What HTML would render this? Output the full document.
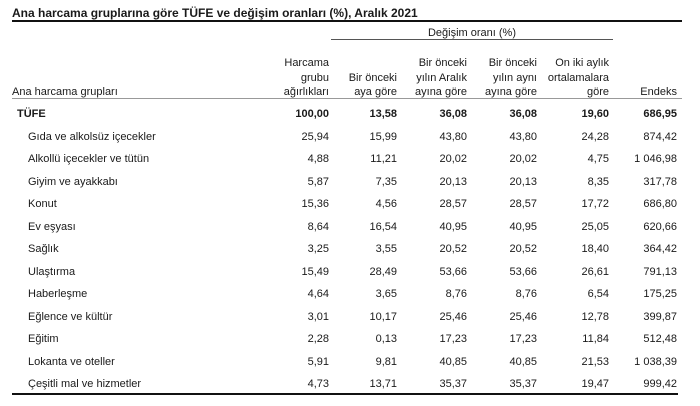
<!DOCTYPE html>
<html><head><meta charset="utf-8"><style>
body{margin:0;background:#fff;width:700px;height:406px;position:relative;overflow:hidden;font-family:"Liberation Sans",Arial,sans-serif;color:#1a1a1a;font-size:11px}
.t{position:absolute;white-space:nowrap;line-height:14px}
.r{text-align:right}
.b{font-weight:bold}
.ln{position:absolute;background:#111}
</style></head><body>
<div class="t b" style="left:12px;top:6px;font-size:12px">Ana harcama gruplarına göre TÜFE ve değişim oranları (%), Aralık 2021</div>
<div class="ln" style="left:12px;top:20px;width:670px;height:2px"></div>
<div class="t" style="left:331px;width:282px;text-align:center;top:26px">Değişim oranı (%)</div>
<div class="ln" style="left:331px;top:39px;width:282px;height:1px;background:#555"></div>
<div id="hdr"></div>
<div class="ln" style="left:12px;top:98px;width:670px;height:1px;background:#999"></div>
<div id="rows"></div>
<div class="ln" style="left:12px;top:393px;width:666px;height:2px"></div>
<script>
var R=[329,397,467,537,609,677];
var H=[["Harcama","grubu","ağırlıkları"],["","Bir önceki","aya göre"],["Bir önceki","yılın Aralık","ayına göre"],["Bir önceki","yılın aynı","ayına göre"],["On iki aylık","ortalamalara","göre"],["","","Endeks"]];
var ys=[56,71,85],h="";
H.forEach(function(c,i){c.forEach(function(s,j){if(s)h+='<div class="t r" style="right:'+(700-R[i])+'px;top:'+ys[j]+'px">'+s+'</div>';});});
h+='<div class="t" style="left:12px;top:85px">Ana harcama grupları</div>';
document.getElementById('hdr').innerHTML=h;
var D=[["TÜFE","100,00","13,58","36,08","36,08","19,60","686,95"],
["Gıda ve alkolsüz içecekler","25,94","15,99","43,80","43,80","24,28","874,42"],
["Alkollü içecekler ve tütün","4,88","11,21","20,02","20,02","4,75","1 046,98"],
["Giyim ve ayakkabı","5,87","7,35","20,13","20,13","8,35","317,78"],
["Konut","15,36","4,56","28,57","28,57","17,72","686,80"],
["Ev eşyası","8,64","16,54","40,95","40,95","25,05","620,66"],
["Sağlık","3,25","3,55","20,52","20,52","18,40","364,42"],
["Ulaştırma","15,49","28,49","53,66","53,66","26,61","791,13"],
["Haberleşme","4,64","3,65","8,76","8,76","6,54","175,25"],
["Eğlence ve kültür","3,01","10,17","25,46","25,46","12,78","399,87"],
["Eğitim","2,28","0,13","17,23","17,23","11,84","512,48"],
["Lokanta ve oteller","5,91","9,81","40,85","40,85","21,53","1 038,39"],
["Çeşitli mal ve hizmetler","4,73","13,71","35,37","35,37","19,47","999,42"]];
h="";
D.forEach(function(r,k){var y=107+k*22.5,b=k==0?' b':'';
h+='<div class="t'+b+'" style="left:'+(k==0?17:28)+'px;top:'+y+'px">'+r[0]+'</div>';
for(var i=1;i<7;i++)h+='<div class="t r'+b+'" style="right:'+(700-R[i-1])+'px;top:'+y+'px">'+r[i]+'</div>';});
document.getElementById('rows').innerHTML=h;
</script>
</body></html>
